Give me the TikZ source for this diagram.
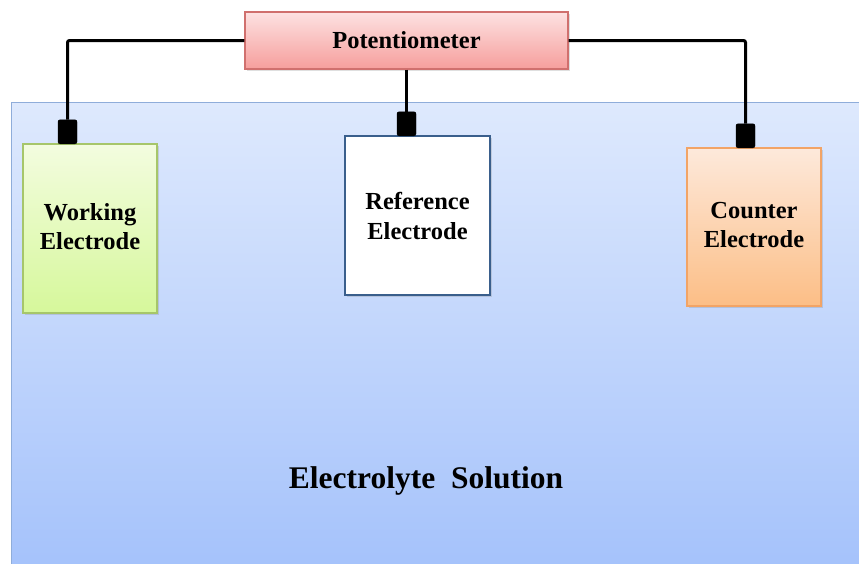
\documentclass[tikz,border=0pt]{standalone}
\usepackage{fontspec}
\setmainfont{Liberation Serif}
\usetikzlibrary{shadows}
\definecolor{solA}{HTML}{DEE9FD}
\definecolor{solB}{HTML}{A3C1FB}
\definecolor{solD}{HTML}{8FADDA}
\definecolor{potA}{HTML}{FDE2E2}
\definecolor{potB}{HTML}{F69E9C}
\definecolor{potD}{HTML}{D0706E}
\definecolor{wrkA}{HTML}{F3FCDF}
\definecolor{wrkB}{HTML}{D6F89B}
\definecolor{wrkD}{HTML}{A6C66A}
\definecolor{cntA}{HTML}{FDE9DB}
\definecolor{cntB}{HTML}{FCBE86}
\definecolor{cntD}{HTML}{F2A466}
\definecolor{refD}{HTML}{3A5F8C}
\tikzset{
  box/.style={draw, line width=1.2pt, inner sep=0pt, align=center,
    font=\fontsize{24.5}{30}\selectfont\bfseries,
    drop shadow={opacity=0.25, shadow xshift=1.5pt, shadow yshift=-2pt}},
  blk/.style={fill=black, draw=black, rounded corners=2pt, minimum width=19pt, minimum height=24pt, inner sep=0pt, anchor=south},
  wire/.style={line width=3pt, rounded corners=2pt}
}
\begin{document}
\begin{tikzpicture}[x=1pt,y=-1pt]
\useasboundingbox[fill=white] (0,0) rectangle (859,563);
% electrolyte container
\node[draw=solD, line width=1.3pt, top color=solA, bottom color=solB, minimum width=870pt, minimum height=480pt, anchor=north west, inner sep=0pt] (sol) at (11,102) {};
\node[font=\fontsize{31.5}{38}\selectfont\bfseries] (soltext) at (426,481) {Electrolyte\ \ Solution};
% potentiometer
\node[box, draw=potD, top color=potA, bottom color=potB, minimum width=323pt, minimum height=57pt] (pot) at (406.5,40.5) {Potentiometer};
% electrodes
\node[box, draw=wrkD, top color=wrkA, bottom color=wrkB, minimum width=134pt, minimum height=169pt] (wrk) at (90,228.5) {\raisebox{-2pt}{\begin{tabular}{@{}c@{}}Working\\[-1pt]Electrode\end{tabular}}};
\node[box, draw=refD, line width=2.8pt, fill=white, minimum width=145pt, minimum height=159pt, drop shadow={opacity=0}] (ref) at (417.5,215.5) {Reference\\Electrode};
\node[box, draw=cntD, top color=cntA, bottom color=cntB, minimum width=134pt, minimum height=158pt] (cnt) at (754,227) {\raisebox{-1pt}{\begin{tabular}{@{}c@{}}Counter\\[-1pt]Electrode\end{tabular}}};
% connector blocks
\node[blk] (wb) at (67.5,144) {};
\node[blk] (rb) at (406.5,136) {};
\node[blk] (cb) at (745.5,148) {};
% wires
\draw[wire] (pot.west) -| (wb.north);
\draw[wire] (pot.south) -- (rb.north);
\draw[wire] (pot.east) -| (cb.north);
\end{tikzpicture}
\end{document}
